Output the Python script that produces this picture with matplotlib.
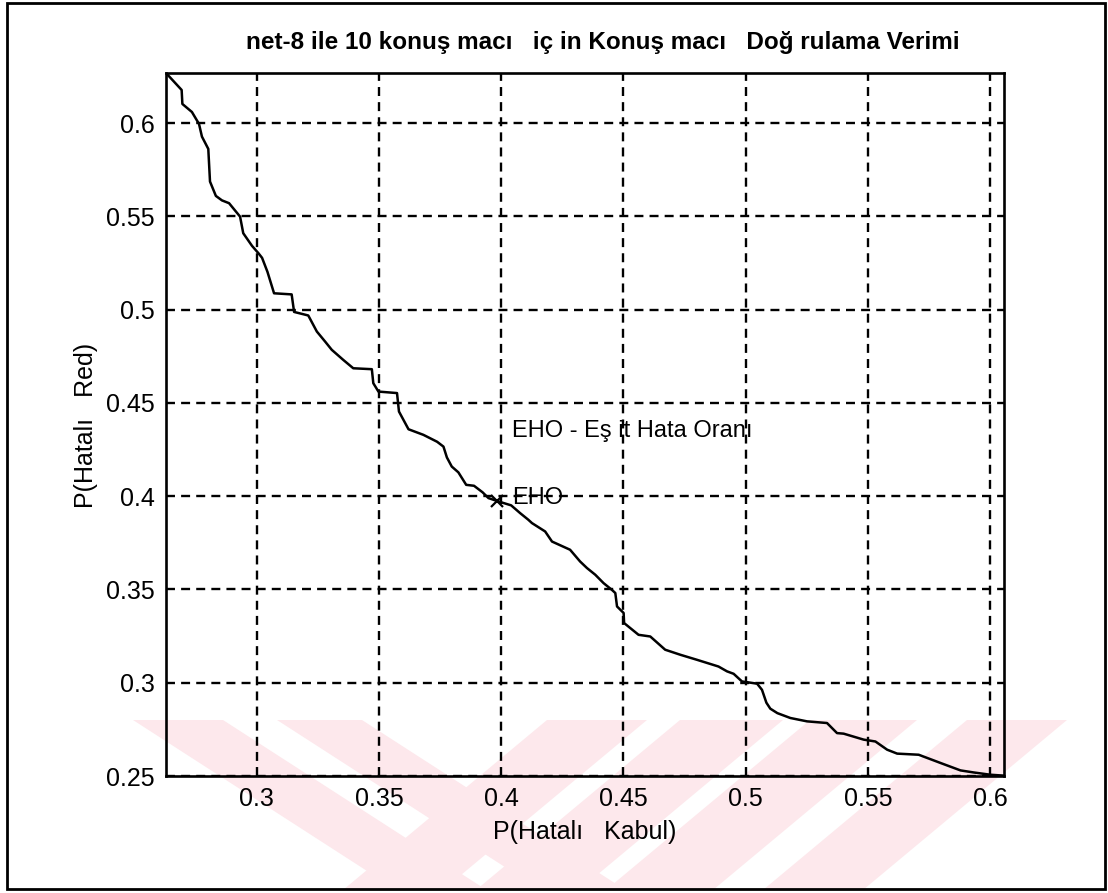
import numpy as np
import matplotlib.pyplot as plt
from matplotlib.patches import Polygon, Rectangle

plt.rcParams['font.family'] = ['Liberation Sans', 'DejaVu Sans']

# DET curve: false-accept probability vs false-reject probability
p_false_accept = [0.2629, 0.2693, 0.2696, 0.2735, 0.2764, 0.2776, 0.2802, 0.2809,
                  0.2833, 0.2858, 0.2887, 0.2932, 0.2945, 0.2981, 0.3007, 0.3022,
                  0.3044, 0.3071, 0.3143, 0.3153, 0.3211, 0.3246, 0.3280, 0.3307,
                  0.3354, 0.3395, 0.3471, 0.3477, 0.3498, 0.3574, 0.3582, 0.3621,
                  0.3682, 0.3738, 0.3764, 0.3778, 0.3798, 0.3825, 0.3857, 0.3889,
                  0.3924, 0.3948, 0.3989, 0.4041, 0.4078, 0.4111, 0.4126, 0.4180,
                  0.4208, 0.4282, 0.4323, 0.4351, 0.4385, 0.4419, 0.4453, 0.4467,
                  0.4474, 0.4501, 0.4503, 0.4562, 0.4610, 0.4671, 0.4733, 0.4801,
                  0.4889, 0.4924, 0.4951, 0.4985, 0.5047, 0.5067, 0.5085, 0.5101,
                  0.5130, 0.5183, 0.5251, 0.5333, 0.5374, 0.5401, 0.5483, 0.5531,
                  0.5579, 0.5620, 0.5708, 0.5797, 0.5879, 0.5933, 0.6000, 0.6055]
p_false_reject = [0.6269, 0.6178, 0.6103, 0.6060, 0.5996, 0.5928, 0.5862, 0.5687,
                  0.5610, 0.5586, 0.5571, 0.5499, 0.5410, 0.5342, 0.5303, 0.5278,
                  0.5203, 0.5088, 0.5082, 0.4988, 0.4969, 0.4883, 0.4829, 0.4785,
                  0.4731, 0.4686, 0.4681, 0.4606, 0.4561, 0.4553, 0.4454, 0.4359,
                  0.4329, 0.4292, 0.4266, 0.4208, 0.4159, 0.4128, 0.4061, 0.4056,
                  0.4021, 0.3990, 0.3972, 0.3951, 0.3909, 0.3874, 0.3856, 0.3811,
                  0.3757, 0.3713, 0.3650, 0.3615, 0.3579, 0.3534, 0.3498, 0.3481,
                  0.3409, 0.3374, 0.3320, 0.3257, 0.3248, 0.3177, 0.3150, 0.3123,
                  0.3087, 0.3061, 0.3048, 0.3007, 0.2995, 0.2962, 0.2893, 0.2861,
                  0.2837, 0.2811, 0.2793, 0.2784, 0.2730, 0.2727, 0.2695, 0.2685,
                  0.2641, 0.2620, 0.2614, 0.2570, 0.2530, 0.2519, 0.2507, 0.2502]

eer_point = (0.3985, 0.3975)

x_ticks = [0.3, 0.35, 0.4, 0.45, 0.5, 0.55, 0.6]
y_ticks = [0.25, 0.3, 0.35, 0.4, 0.45, 0.5, 0.55, 0.6]
x_range = (0.2629, 0.6057)
y_range = (0.25, 0.6269)

title = "net-8 ile 10 konuş macı   iç in Konuş macı   Doğ rulama Verimi"
x_label = "P(Hatalı   Kabul)"
y_label = "P(Hatalı   Red)"
eer_legend = "EHO - Eş it Hata Oranı"
eer_label = "EHO"

W, H = 1108, 893
fig = plt.figure(figsize=(W / 100, H / 100), dpi=100, facecolor='white')
ax = fig.add_axes([166 / W, 1 - 776 / H, (1004 - 166) / W, (776 - 73) / H])
ax.patch.set_facecolor('none')


def px(x, y):
    return (x / W, 1 - y / H)


# faint pink stamp in the lower band, behind the axes
pink = '#fde8ec'
y0, y1 = 720, 889
for a, b in [(133, 223), (277, 362)]:
    s = 1.55
    pts = [px(a, y0), px(b, y0), px(b + s * (y1 - y0), y1), px(a + s * (y1 - y0), y1)]
    fig.patches.append(Polygon(pts, closed=True, transform=fig.transFigure,
                               facecolor=pink, edgecolor='none', zorder=-2))
for a, b in [(547, 647), (680, 783), (810, 917), (967, 1067)]:
    s = -1.2
    pts = [px(a, y0), px(b, y0), px(b + s * (y1 - y0), y1), px(a + s * (y1 - y0), y1)]
    fig.patches.append(Polygon(pts, closed=True, transform=fig.transFigure,
                               facecolor=pink, edgecolor='none', zorder=-2))

# outer frame
fig.patches.append(Rectangle(px(7, 889), (1105 - 7) / W, (889 - 3) / H,
                             transform=fig.transFigure, fill=False,
                             edgecolor='black', linewidth=2, zorder=5))

ax.plot(p_false_accept, p_false_reject, color='black', linewidth=1.8, zorder=3)
ax.plot(*eer_point, marker='x', color='black', markersize=8, mew=1.6, zorder=4)
ax.text(0.4045, 0.3991, eer_label, fontsize=17, va='center', ha='left', zorder=4)
ax.text(0.4045, 0.4347, eer_legend, fontsize=17, va='center', ha='left')

ax.set_xlim(*x_range)
ax.set_ylim(*y_range)
ax.set_xticks(x_ticks)
ax.set_yticks(y_ticks)
ax.set_xticklabels([f"{v:g}" for v in x_ticks])
ax.set_yticklabels([f"{v:g}" for v in y_ticks])
ax.tick_params(direction='in', length=4, width=1.2, labelsize=18, pad=8)
ax.grid(True, color='black', linestyle=(0, (3.8, 2.6)), linewidth=1.7)
for sp in ax.spines.values():
    sp.set_linewidth(1.9)

fig.text(603 / W, 1 - 42 / H, title, fontsize=17.5, fontweight='bold',
         ha='center', va='center')
ax.set_xlabel(x_label, fontsize=18)
ax.xaxis.set_label_coords(0.5, (776 - 832) / (776 - 73))
ax.xaxis.label.set_va('center')
ax.set_ylabel(y_label, fontsize=18)
ax.yaxis.set_label_coords((86 - 166) / (1004 - 166), (776 - 425) / (776 - 73))
ax.yaxis.label.set_va('center')

fig.savefig('out.png', dpi=100, facecolor='white')
